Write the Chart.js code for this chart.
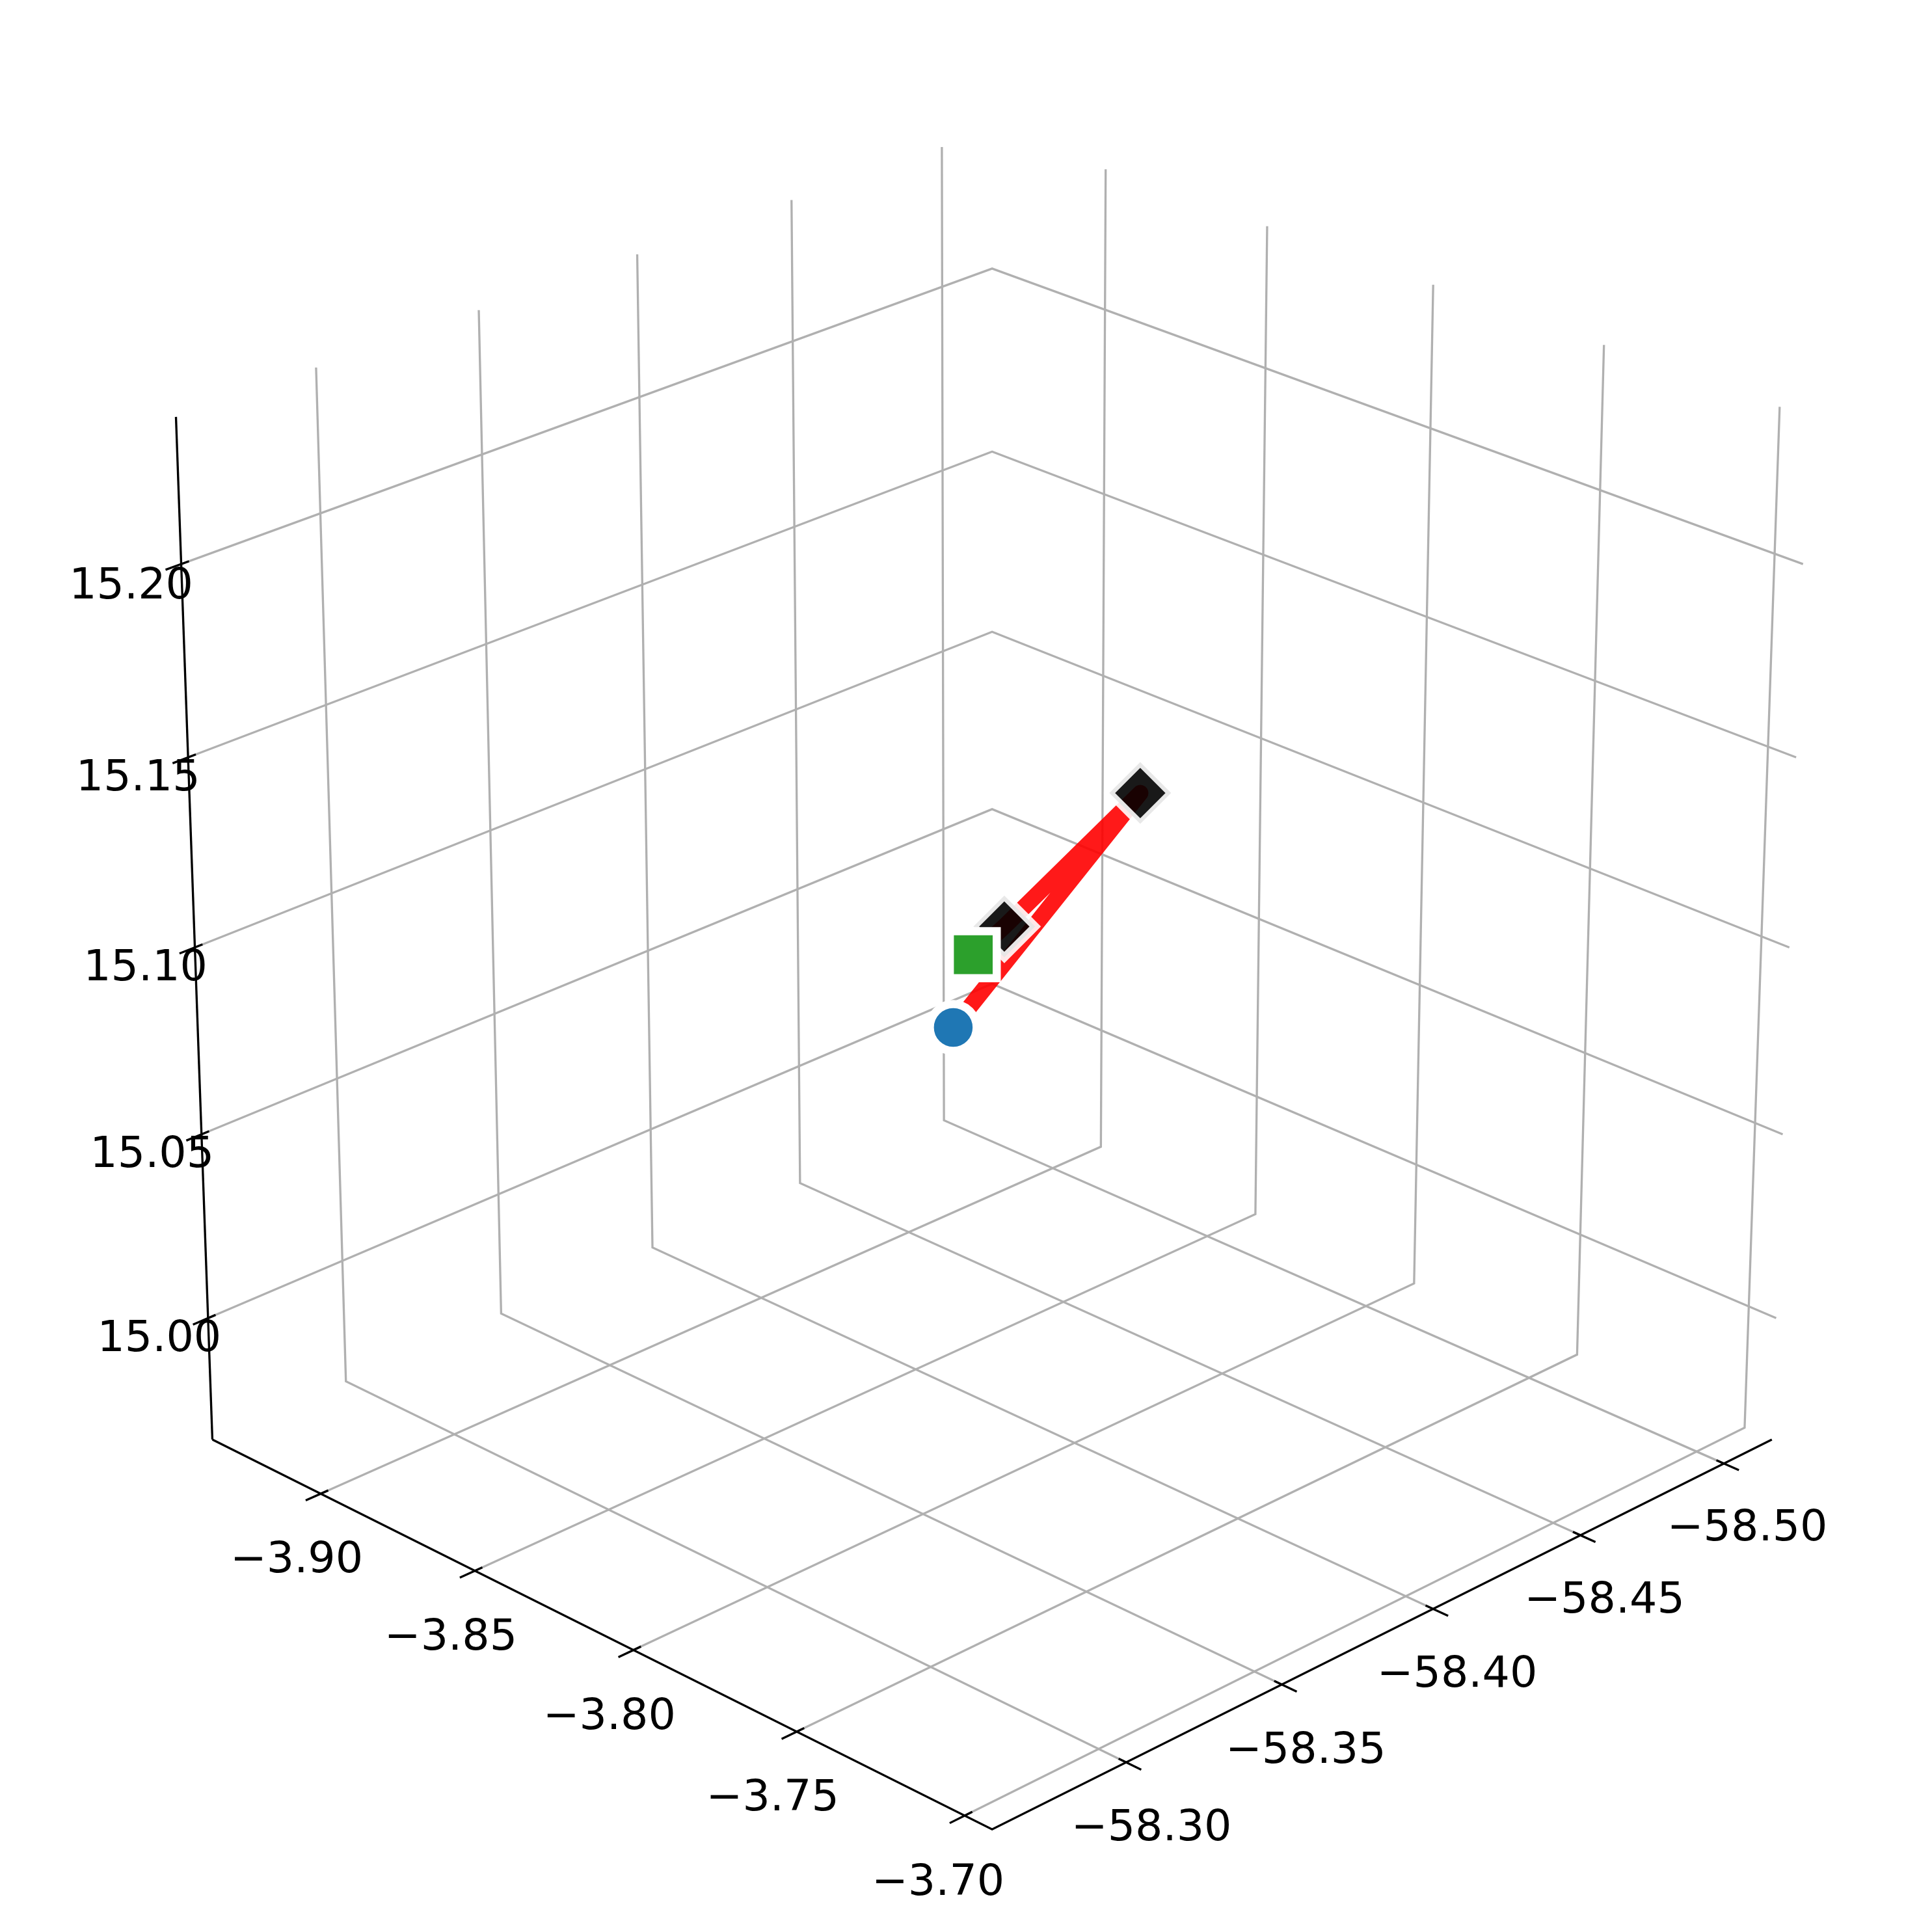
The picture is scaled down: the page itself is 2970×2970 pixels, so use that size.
<!DOCTYPE html>
<html><head><meta charset="utf-8">
<style>html,body{margin:0;padding:0;background:#fff}canvas{display:block}</style>
<script src="https://cdn.jsdelivr.net/npm/chart.js@4"></script>
</head><body><canvas id="c" width="2970" height="2970"></canvas>
<script>
// Axis limits and ticks (data units)
const xLim = [-58.517, -58.258];
const yLim = [-3.936, -3.692];
const zLim = [14.9665, 15.2375];
const xTicks = [-58.50, -58.45, -58.40, -58.35, -58.30];
const yTicks = [-3.90, -3.85, -3.80, -3.75, -3.70];
const zTicks = [15.00, 15.05, 15.10, 15.15, 15.20];
const xTickLabels = ['−58.50','−58.45','−58.40','−58.35','−58.30'];
const yTickLabels = ['−3.90','−3.85','−3.80','−3.75','−3.70'];
const zTickLabels = ['15.00','15.05','15.10','15.15','15.20'];
// Path and marker positions (x, y, z)
const pathX = [-58.3752, -58.4216, -58.3904, -58.3834];
const pathY = [-3.8143, -3.8008, -3.8130, -3.8159];
const pathZ = [15.0829, 15.1340, 15.1049, 15.0988];
const startPoint = [-58.3752, -3.8143, 15.0829];
const endPoint = [-58.3834, -3.8159, 15.0988];
const waypointsX = [-58.4216, -58.3904];
const waypointsY = [-3.8008, -3.8130];
const waypointsZ = [15.1340, 15.1049];

// Camera
const elev = 25 * Math.PI / 180, azim = 45 * Math.PI / 180, dist = 10, side = 1.08;
const w3 = [Math.cos(elev)*Math.cos(azim), Math.cos(elev)*Math.sin(azim), Math.sin(elev)];
const u3 = [-Math.sin(azim), Math.cos(azim), 0];
const v3 = [w3[1]*u3[2]-w3[2]*u3[1], w3[2]*u3[0]-w3[0]*u3[2], w3[0]*u3[1]-w3[1]*u3[0]];
function project(x, y, z) {
  const d = [(x-xLim[0])/(xLim[1]-xLim[0])-0.5, (y-yLim[0])/(yLim[1]-yLim[0])-0.5, (z-zLim[0])/(zLim[1]-zLim[0])-0.5].map(t => t*side);
  const dot = (a,b) => a[0]*b[0]+a[1]*b[1]+a[2]*b[2];
  const depth = dist - dot(w3, d);
  return { x: dot(u3, d)/depth, y: dot(v3, d)/depth };
}
const xr = xLim[1]-xLim[0], yr = yLim[1]-yLim[0];
const tickOut = 0.018, tickIn = 0.009;
const datasets = [];
function line(pts, color, width, extra) {
  datasets.push(Object.assign({
    data: pts.map(p => project(p[0], p[1], p[2])),
    showLine: true, borderColor: color, borderWidth: width,
    pointRadius: 0, fill: false, tension: 0, clip: false
  }, extra || {}));
}
const GRID = '#b0b0b0', LW = 3.33;
xTicks.forEach(t => line([[t,yLim[1],zLim[0]],[t,yLim[0],zLim[0]],[t,yLim[0],zLim[1]]], GRID, LW));
yTicks.forEach(t => line([[xLim[0],t,zLim[1]],[xLim[0],t,zLim[0]],[xLim[1],t,zLim[0]]], GRID, LW));
zTicks.forEach(t => line([[xLim[1],yLim[0],t],[xLim[0],yLim[0],t],[xLim[0],yLim[1],t]], GRID, LW));
line([[xLim[1],yLim[0],zLim[0]],[xLim[1],yLim[1],zLim[0]],[xLim[0],yLim[1],zLim[0]]], '#000', LW);
line([[xLim[1],yLim[0],zLim[0]],[xLim[1],yLim[0],zLim[1]]], '#000', LW);
xTicks.forEach(t => line([[t,yLim[1]+tickOut*yr,zLim[0]],[t,yLim[1]-tickIn*yr,zLim[0]]], '#000', LW));
yTicks.forEach(t => line([[xLim[1]+tickOut*xr,t,zLim[0]],[xLim[1]-tickIn*xr,t,zLim[0]]], '#000', LW));
zTicks.forEach(t => line([[xLim[1]+tickOut*xr,yLim[0],t],[xLim[1]-tickIn*xr,yLim[0],t]], '#000', LW));
// Red path
line(pathX.map((v,i)=>[v,pathY[i],pathZ[i]]), 'rgba(255,0,0,0.9)', 25, {borderJoinStyle:'round', borderCapStyle:'butt'});
// Waypoint markers
datasets.push({
  data: waypointsX.map((v,i)=>project(v,waypointsY[i],waypointsZ[i])),
  showLine:false, pointStyle:'rectRot', pointRadius:47.5,
  pointBackgroundColor:'rgba(0,0,0,0.9)', pointBorderColor:'rgba(255,255,255,0.9)', pointBorderWidth:12.5, clip:false
});
datasets.push({
  data:[project(...endPoint)], showLine:false, pointStyle:'rect', pointRadius:51,
  pointBackgroundColor:'#2ca02c', pointBorderColor:'#ffffff', pointBorderWidth:12.5, clip:false
});
datasets.push({
  data:[project(...startPoint)], showLine:false, pointStyle:'circle', pointRadius:36,
  pointBackgroundColor:'#1f77b4', pointBorderColor:'#ffffff', pointBorderWidth:12.5, clip:false
});
datasets.forEach((d,i)=>{ d.order = -i; });

const tickLabelPlugin = {
  id:'tickLabels',
  afterDatasetsDraw(chart){
    const ctx = chart.ctx, sx = chart.scales.x, sy = chart.scales.y;
    ctx.save();
    ctx.font = '66.67px "DejaVu Sans"';
    ctx.fillStyle = '#000';
    ctx.textAlign = 'center';
    ctx.textBaseline = 'alphabetic';
    const put = (labels, ticks, pos, dx, dy) => ticks.forEach((t,i) => {
      const p = pos(t);
      ctx.fillText(labels[i], sx.getPixelForValue(p.x)+dx[i], sy.getPixelForValue(p.y)+dy[i]+24.3);
    });
    put(xTickLabels, xTicks, t=>project(t,yLim[1],zLim[0]), [36,37,37,37,39], [94,95,95,96,96]);
    put(yTickLabels, yTicks, t=>project(xLim[1],t,zLim[0]), [-37,-37,-37,-37,-41], [96,97,97,97,98]);
    put(zTickLabels, zTicks, t=>project(xLim[1],yLim[0],t), [-75,-76,-76,-77,-77], [26,26,26,26,29]);
    ctx.restore();
  }
};
new Chart(document.getElementById('c'), {
  type:'scatter',
  data:{datasets},
  plugins:[tickLabelPlugin],
  options:{
    responsive:false, animation:false, devicePixelRatio:1,
    layout:{padding:0, autoPadding:false},
    plugins:{legend:{display:false}, tooltip:{enabled:false}},
    scales:{
      x:{type:'linear',display:false,min:-0.095,max:0.09,bounds:'data'},
      y:{type:'linear',display:false,min:-0.095,max:0.09,bounds:'data'}
    }
  }
});
</script></body></html>
